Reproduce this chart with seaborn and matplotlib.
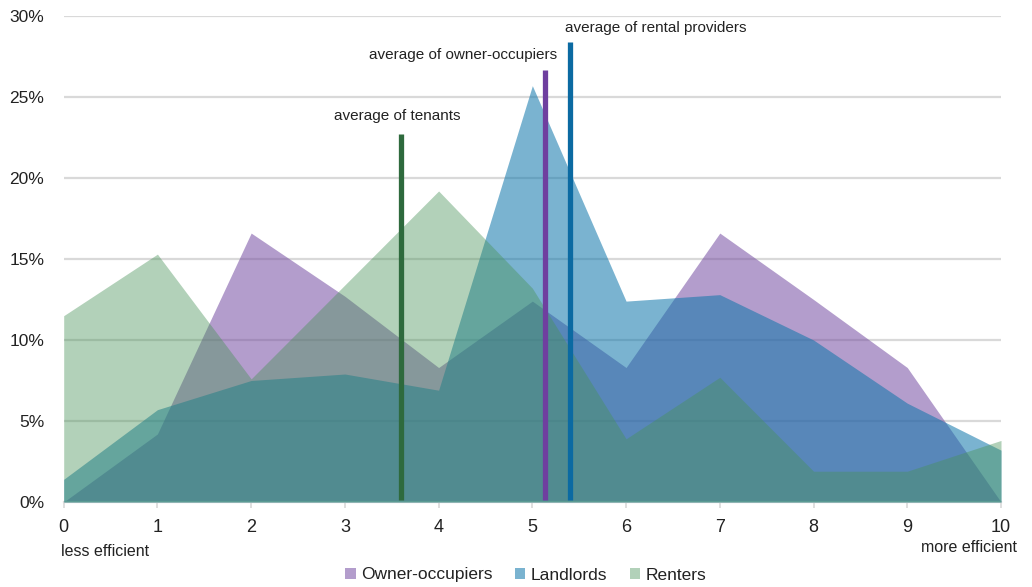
import matplotlib
matplotlib.use("Agg")
import matplotlib.pyplot as plt
from matplotlib.patches import Patch
from matplotlib.ticker import PercentFormatter
import seaborn as sns
import pandas as pd
import numpy as np

# ---- data ----
scores = [0, 1, 2, 3, 4, 5, 6, 7, 8, 9, 10]
owner_occupiers = [0.0, 4.2, 16.6, 12.7, 8.3, 12.4, 8.3, 16.6, 12.5, 8.3, 0.0]
landlords = [1.4, 5.7, 7.5, 7.9, 6.9, 25.7, 12.4, 12.8, 10.0, 6.1, 3.2]
renters = [11.5, 15.3, 7.6, 13.4, 19.2, 13.2, 3.9, 7.7, 1.9, 1.9, 3.8]
series_names = ["Owner-occupiers", "Landlords", "Renters"]

avg_labels = ["average of tenants", "average of owner-occupiers", "average of rental providers"]
avg_x = [3.6, 5.14, 5.4]
avg_top = [22.7, 26.65, 28.4]
avg_label_x = [3.56, 4.26, 6.32]
avg_label_y = [23.8, 27.6, 29.25]

y_ticks = [0, 5, 10, 15, 20, 25, 30]

# ---- style ----
sns.set_theme(style="white")
plt.rcParams["font.family"] = ["Liberation Sans Narrow", "Liberation Sans", "DejaVu Sans"]
text_color = "#222222"

fill_colors = ["#754da2", "#0d75aa", "#489258"]
fill_alphas = [0.55, 0.55, 0.42]
avg_line_colors = ["#2e6a3d", "#6f3f9f", "#0b6aa2"]

df = pd.DataFrame({
    "score": scores * 3,
    "share": np.array(owner_occupiers + landlords + renters) / 100.0,
    "group": sum([[n] * len(scores) for n in series_names], []),
})

fig = plt.figure(figsize=(10.32, 5.87), dpi=100)
ax = fig.add_axes([63.7 / 1032, 1 - 502 / 587, (1001 - 63.7) / 1032, (502 - 16) / 587])

sns.lineplot(data=df, x="score", y="share", hue="group", palette=fill_colors,
             hue_order=series_names, linewidth=0, legend=False, ax=ax)

for i, name in enumerate(series_names):
    sub = df[df["group"] == name]
    ax.fill_between(sub["score"], 0, sub["share"], color=fill_colors[i],
                    alpha=fill_alphas[i], linewidth=0, zorder=2 + i)

for i in range(3):
    ax.vlines(avg_x[i], 0.001, avg_top[i] / 100.0, color=avg_line_colors[i],
              linewidth=3.8, zorder=6)
    ax.text(avg_label_x[i], avg_label_y[i] / 100.0, avg_labels[i], ha="center",
            va="center", fontsize=11, color=text_color, zorder=7)

ax.set_xlim(0, 10)
ax.set_ylim(0, 0.30)
ax.set_xticks(scores)
ax.set_yticks([v / 100.0 for v in y_ticks])
ax.yaxis.set_major_formatter(PercentFormatter(1.0, decimals=0))
ax.grid(axis="y", color="#d9d9d9", linewidth=1.6, zorder=0)
ax.grid(axis="x", visible=False)
ax.set_axisbelow(True)
for s in ["top", "right", "left"]:
    ax.spines[s].set_visible(False)
ax.spines["bottom"].set_color("#d9d9d9")
ax.spines["bottom"].set_linewidth(1.6)
ax.tick_params(axis="x", length=4, width=1.2, color="#d9d9d9", pad=8,
               labelsize=13, labelcolor=text_color, bottom=True)
ax.tick_params(axis="y", length=0, pad=14, labelsize=12.5, labelcolor=text_color)
ax.set_xlabel("")
ax.set_ylabel("")

fig.text(61 / 1032, 1 - 552 / 587, "less efficient", ha="left", va="center",
         fontsize=11.5, color=text_color)
fig.text(1017 / 1032, 1 - 548 / 587, "more efficient", ha="right", va="center",
         fontsize=11.5, color=text_color)

handles = [Patch(facecolor=fill_colors[i], alpha=fill_alphas[i], edgecolor="none")
           for i in range(3)]
fig.legend(handles, series_names, loc="center", bbox_to_anchor=(525.5 / 1032, 1 - 575 / 587),
           ncol=3, frameon=False, fontsize=12.5, handlelength=0.6, handleheight=0.6,
           handletextpad=0.3, columnspacing=1.3, labelcolor=text_color)

fig.savefig("out.png", dpi=100)
